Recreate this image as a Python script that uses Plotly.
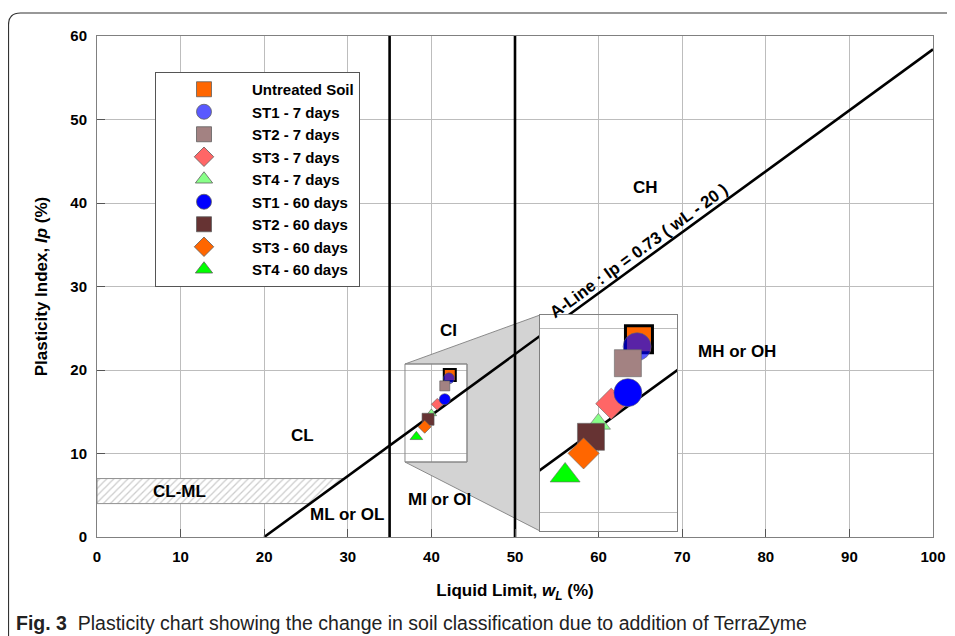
import plotly.graph_objects as go

# ---------------- data ----------------
series_names = ["Untreated Soil", "ST1 - 7 days", "ST2 - 7 days", "ST3 - 7 days", "ST4 - 7 days",
                "ST1 - 60 days", "ST2 - 60 days", "ST3 - 60 days", "ST4 - 60 days"]
liquid_limit = [42.2, 42.1, 41.6, 40.7, 40.0, 41.6, 39.6, 39.2, 38.2]
plasticity_index = [19.4, 19.0, 18.1, 15.9, 14.8, 16.5, 14.1, 13.2, 12.0]

a_line_wl = [20, 100]
a_line_coef = 0.73
a_line_offset = 20
boundary_wl = [35, 50]
clml_band = [4, 7]

zone_labels = ["CH", "CI", "MH or OH", "CL", "CL-ML", "ML or OL", "MI or OI"]
zone_x = [65.6, 42.1, 76.6, 24.6, 9.9, 29.9, 41.0]
zone_y = [41.8, 24.7, 22.2, 12.1, 5.4, 2.75, 4.55]

x_ticks = [0, 10, 20, 30, 40, 50, 60, 70, 80, 90, 100]
y_ticks = [0, 10, 20, 30, 40, 50, 60]

# zoom window (data coords)
zoom_x = [36.84, 44.26]
zoom_y = [8.98, 20.72]

# ---------------- styles ----------------
colors = ["#FF6600", "rgba(0,0,255,0.65)", "#A38282", "#FF6666", "#88FF88",
          "#0000FF", "#663333", "#FF6600", "#00FF00"]
symbols = ["square", "circle", "square", "diamond", "triangle-up",
           "circle", "square", "diamond", "triangle-up"]
main_sizes = [12, 11, 10, 9, 9, 11, 12, 10, 11]
inset_sizes = [27, 28, 27, 24, 21, 28, 27, 24, 26]

FONT = "Liberation Sans, Arial, sans-serif"
OFF = 8                      # page body margin
W, H = 947, 628
# plot area in page pixels
PX0, PX1, PY0, PY1 = 97, 933, 36, 537
L, R, T, B = PX0 - OFF, (OFF + W) - PX1, PY0 - OFF, (OFF + H) - PY1
PW, PH = PX1 - PX0, PY1 - PY0


def px2paper_x(px):
    return (px - PX0) / PW


def py2paper_y(py):
    return (PY1 - py) / PH


inset_dom_x = [px2paper_x(540), px2paper_x(677)]
inset_dom_y = [py2paper_y(531), py2paper_y(315)]

fig = go.Figure()

# CL-ML hatched band
wl_lo = a_line_offset + clml_band[0] / a_line_coef
wl_hi = a_line_offset + clml_band[1] / a_line_coef
fig.add_trace(go.Scatter(
    x=[0, wl_lo, wl_hi, 0, 0], y=[clml_band[0], clml_band[0], clml_band[1], clml_band[1], clml_band[0]],
    mode="lines", fill="toself", line=dict(color="#909090", width=1),
    fillcolor="white",
    fillpattern=dict(shape="/", fgcolor="#9a9a9a", bgcolor="white", size=5, solidity=0.25),
    showlegend=False, hoverinfo="skip"))

a_line_ip = [a_line_coef * (w - a_line_offset) for w in a_line_wl]
for xa, ya in [("x", "y"), ("x2", "y2")]:
    fig.add_trace(go.Scatter(x=a_line_wl, y=a_line_ip, mode="lines",
                             line=dict(color="black", width=2.6),
                             xaxis=xa, yaxis=ya, showlegend=False, hoverinfo="skip"))

for b in boundary_wl:
    fig.add_trace(go.Scatter(x=[b, b], y=[y_ticks[0], y_ticks[-1]], mode="lines",
                             line=dict(color="black", width=2.6), showlegend=False, hoverinfo="skip"))

# data markers (main + inset)
for i, name in enumerate(series_names):
    untreated = (i == 0)
    fig.add_trace(go.Scatter(
        x=[liquid_limit[i]], y=[plasticity_index[i]], mode="markers", name=name,
        marker=dict(symbol=symbols[i], size=main_sizes[i], color=colors[i],
                    line=dict(color="black" if untreated else "#555555", width=2 if untreated else 0.6)),
        showlegend=False))
    fig.add_trace(go.Scatter(
        x=[liquid_limit[i]], y=[plasticity_index[i]], mode="markers", name=name,
        xaxis="x2", yaxis="y2",
        marker=dict(symbol=symbols[i], size=inset_sizes[i], color=colors[i],
                    line=dict(color="black" if untreated else "#666666", width=3 if untreated else 0.6)),
        showlegend=False, cliponaxis=False))

# legend entries
for i, name in enumerate(series_names):
    fig.add_trace(go.Scatter(
        x=[None], y=[None], mode="markers", name=name,
        marker=dict(symbol=symbols[i], size=15, color=colors[i],
                    line=dict(color="#606060", width=0.8)),
        showlegend=True))

shapes = []
# connector polygon (zoom box -> inset)
ix0 = inset_dom_x[0] * 100
iy0 = inset_dom_y[0] * 60
iy1 = inset_dom_y[1] * 60
path = (f"M {zoom_x[0]},{zoom_y[1]} L {ix0},{iy1} L {ix0},{iy0} L {zoom_x[0]},{zoom_y[0]} "
        f"L {zoom_x[1]},{zoom_y[0]} L {zoom_x[1]},{zoom_y[1]} Z")
shapes.append(dict(type="path", path=path, xref="x", yref="y", layer="between",
                   fillcolor="#D3D3D3", line=dict(color="#8a8a8a", width=1)))
shapes.append(dict(type="rect", x0=zoom_x[0], x1=zoom_x[1], y0=zoom_y[0], y1=zoom_y[1],
                   xref="x", yref="y", layer="between", line=dict(color="#8a8a8a", width=1)))
# outer rounded frame
fx, fy, rr = px2paper_x(8.5), py2paper_y(13), 12
frame = (f"M {fx},{py2paper_y(650)} L {fx},{py2paper_y(13 + rr)} "
         f"Q {fx},{fy} {px2paper_x(8.5 + rr)},{fy} L {px2paper_x(970)},{fy}")
shapes.append(dict(type="path", path=frame, xref="paper", yref="paper", layer="above",
                   line=dict(color="#333333", width=1.2)))

annotations = []
for lab, zx, zy in zip(zone_labels, zone_x, zone_y):
    annotations.append(dict(x=zx, y=zy, xref="x", yref="y", text=lab, showarrow=False,
                            font=dict(family=FONT, size=17, color="black", weight="bold")))
annotations.append(dict(x=65, y=a_line_coef * (65 - a_line_offset), xref="x", yref="y",
                        text="A-Line : Ip = 0.73 ( wL - 20 )", textangle=-36.1,
                        xshift=-1, yshift=12, showarrow=False,
                        font=dict(family=FONT, size=16.8, color="black", weight="bold")))
annotations.append(dict(x=px2paper_x(14), y=py2paper_y(623), xref="paper", yref="paper",
                        xanchor="left", yanchor="middle", showarrow=False,
                        text="<b>Fig. 3</b>  Plasticity chart showing the change in soil classification due to addition of TerraZyme",
                        font=dict(family="Liberation Sans Narrow, Arial Narrow, sans-serif", size=19.5, color="#222222")))

axis_common = dict(showline=True, linecolor="#808080", linewidth=1, mirror=True,
                   showgrid=True, gridcolor="#BDBDBD", gridwidth=1, zeroline=False,
                   automargin=False)

fig.update_layout(
    width=W, height=H, margin=dict(l=L, r=R, t=T, b=B, autoexpand=False),
    paper_bgcolor="white", plot_bgcolor="white",
    font=dict(family=FONT, color="black"),
    xaxis=dict(range=[0, 100], tickvals=x_ticks, ticks="inside", ticklen=8, tickcolor="#555555",
               tickfont=dict(family=FONT, size=15, weight="bold"), ticklabelstandoff=6,
               title=dict(text="Liquid Limit, <i>w<sub>L</sub></i> (%)", standoff=20,
                          font=dict(family=FONT, size=17, weight="bold")),
               **axis_common),
    yaxis=dict(range=[0, 60], tickvals=y_ticks, ticks="inside", ticklen=8, tickcolor="#555555",
               tickfont=dict(family=FONT, size=15, weight="bold"), ticklabelstandoff=6,
               title=dict(text="Plasticity Index, <i>Ip</i> (%)", standoff=18,
                          font=dict(family=FONT, size=17, weight="bold")),
               **axis_common),
    xaxis2=dict(domain=inset_dom_x, range=zoom_x, anchor="y2", dtick=10, tick0=0,
                showticklabels=False, ticks="", **axis_common),
    yaxis2=dict(domain=inset_dom_y, range=zoom_y, anchor="x2", dtick=10, tick0=0,
                showticklabels=False, ticks="", **axis_common),
    legend=dict(x=px2paper_x(155), y=py2paper_y(72), xanchor="left", yanchor="top",
                bgcolor="white", bordercolor="#555555", borderwidth=1, itemwidth=86,
                font=dict(family=FONT, size=15, weight="bold"), tracegroupgap=0),
    shapes=shapes, annotations=annotations, showlegend=True,
)

fig.write_html("out.html")
